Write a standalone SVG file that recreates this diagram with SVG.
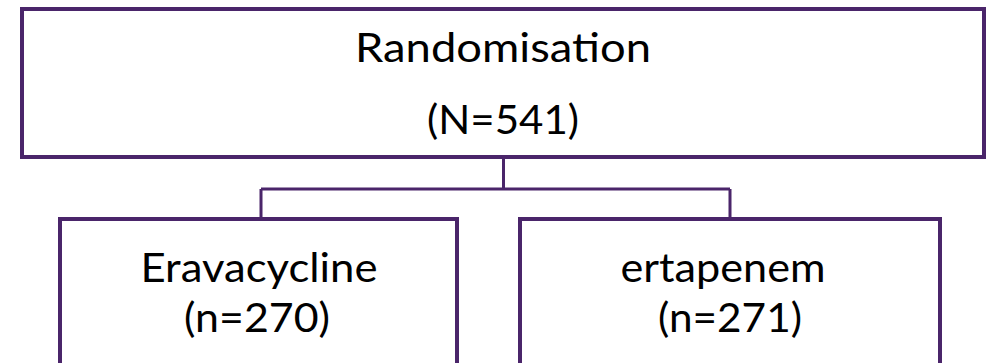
<svg xmlns="http://www.w3.org/2000/svg" width="992" height="363" viewBox="0 0 992 363">
<style>
.box{fill:#ffffff;stroke:#4a256a;stroke-width:4}
.conn{fill:none;stroke:#4a256a;stroke-width:3}
.t{font-family:Lato,"Open Sans","Liberation Sans",sans-serif;font-size:41px;fill:#000000;text-anchor:middle}
</style>
<rect width="992" height="363" fill="#ffffff"/>
<g id="connectors">
<path class="conn" d="M503.5,157 V189 M261,189 H730 M261,189 V219 M730,189 V219"/>
</g>
<g id="randomisation">
<rect class="box" x="22" y="9" width="962" height="148"/>
<text class="t" x="503" y="62" textLength="296" lengthAdjust="spacingAndGlyphs">Randomisation</text>
<text class="t" x="503" y="134" textLength="152" lengthAdjust="spacingAndGlyphs">(N=541)</text>
</g>
<g id="eravacycline">
<rect class="box" x="60" y="219" width="397" height="170"/>
<text class="t" x="259" y="282" textLength="237" lengthAdjust="spacingAndGlyphs">Eravacycline</text>
<text class="t" x="257" y="332" textLength="146" lengthAdjust="spacingAndGlyphs">(n=270)</text>
</g>
<g id="ertapenem">
<rect class="box" x="520" y="219" width="420" height="170"/>
<text class="t" x="723" y="282" textLength="205" lengthAdjust="spacingAndGlyphs">ertapenem</text>
<text class="t" x="730" y="332" textLength="144" lengthAdjust="spacingAndGlyphs">(n=271)</text>
</g>
</svg>
